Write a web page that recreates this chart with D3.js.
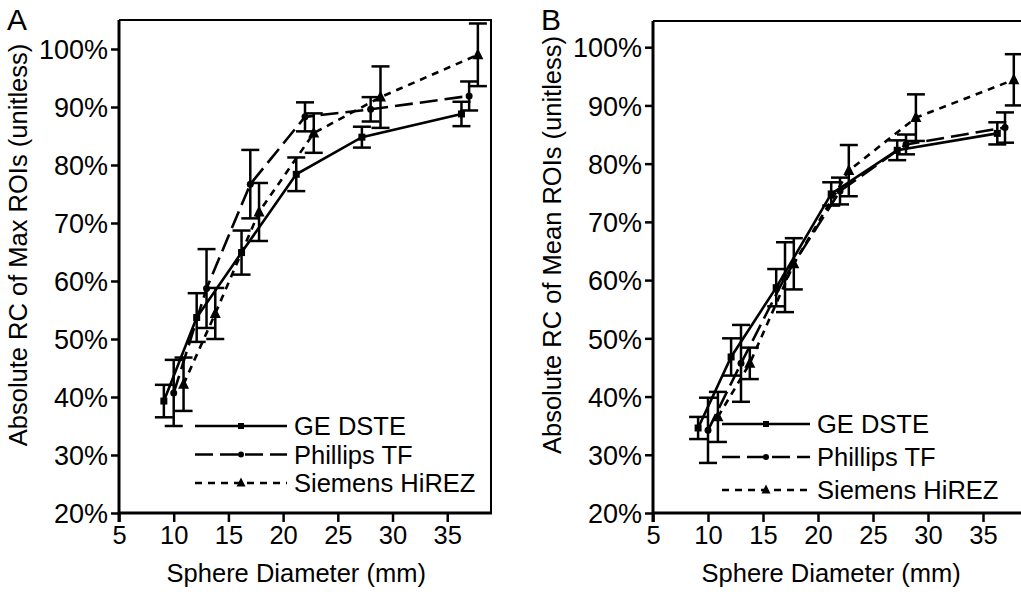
<!DOCTYPE html>
<html>
<head>
<meta charset="utf-8">
<script src="https://cdn.jsdelivr.net/npm/d3@7"></script>
<style>
  body { margin: 0; background: #fff; }
  svg { display: block; font-family: "Liberation Sans", Arial, sans-serif; }
</style>
</head>
<body>
<svg id="chart" width="1021" height="597"></svg>
<script>
/* ===== Data ===== */
const seriesNames = ["GE DSTE", "Phillips TF", "Siemens HiREZ"];
const yTicks = [20, 30, 40, 50, 60, 70, 80, 90, 100];
const xTicks = [5, 10, 15, 20, 25, 30, 35];

// sphere diameters (mm), each vendor plotted slightly offset
const xGE = [9.1, 12.1, 16.2, 21.2, 27.2, 36.3];
const xPH = [10.0, 13.0, 17.0, 22.0, 28.0, 37.0];
const xSI = [10.9, 13.8, 17.8, 22.8, 28.9, 37.8];

// panel A: max ROIs (%)
const maxGE = [39.3, 53.7, 64.9, 78.4, 84.8, 88.8];
const maxGEErr = [2.8, 4.2, 3.8, 2.9, 1.8, 2.1];
const maxPH = [40.7, 58.7, 76.7, 88.3, 89.6, 91.9];
const maxPHErr = [5.7, 6.8, 5.9, 2.5, 2.1, 2.5];
const maxSI = [42.2, 54.4, 71.9, 85.5, 91.7, 99.0];
const maxSIErr = [4.6, 4.4, 5.0, 3.4, 5.3, 5.4];

// panel B: mean ROIs (%)
const meanGE = [34.6, 46.8, 58.7, 74.8, 82.3, 85.2];
const meanGEErr = [1.9, 3.2, 3.2, 2.0, 1.7, 1.9];
const meanPH = [34.2, 45.7, 60.5, 75.3, 83.3, 86.2];
const meanPHErr = [5.6, 6.6, 6.0, 2.3, 1.7, 2.6];
const meanSI = [36.5, 45.7, 62.8, 78.8, 87.9, 94.4];
const meanSIErr = [4.3, 2.7, 4.4, 4.4, 4.0, 4.4];

/* ===== Styles ===== */
const dash = { ge: null, ph: "18,7", si: "7,6" };
const FS = 25.5;

const svg = d3.select("#chart");

function marker(g, kind, x, y, s) {
  if (kind === "ge") {
    g.append("rect").attr("x", x - s / 2).attr("y", y - s / 2)
      .attr("width", s).attr("height", s).attr("fill", "#000");
  } else if (kind === "ph") {
    g.append("circle").attr("cx", x).attr("cy", y).attr("r", s / 2).attr("fill", "#000");
  } else {
    const h = s;
    g.append("path")
      .attr("d", `M${x},${y - h * 0.6} L${x + s / 2},${y + h * 0.4} L${x - s / 2},${y + h * 0.4} Z`)
      .attr("fill", "#000");
  }
}

function drawPanel(p) {
  const g = svg.append("g");
  const x = d3.scaleLinear().domain([5, 39]).range([p.left, p.right]);
  const y = d3.scaleLinear().domain([20, p.yMax]).range([513, p.top]);

  // frame (top + right thin)
  g.append("line").attr("x1", p.left).attr("x2", p.right + 1)
    .attr("y1", p.top).attr("y2", p.top)
    .attr("stroke", "#000").attr("stroke-width", 2);
  g.append("line").attr("x1", p.right).attr("x2", p.right)
    .attr("y1", p.top).attr("y2", 513)
    .attr("stroke", "#000").attr("stroke-width", 2);

  // axes
  const yAxis = d3.axisLeft(y).tickValues(yTicks).tickSize(8).tickPadding(3)
    .tickFormat(d => d + "%");
  const xAxis = d3.axisBottom(x).tickValues(xTicks).tickSize(9).tickPadding(4);

  const ya = g.append("g").attr("transform", `translate(${p.left},0)`).call(yAxis);
  const xa = g.append("g").attr("transform", "translate(0,513)").call(xAxis);
  [ya, xa].forEach(a => {
    a.select(".domain").attr("stroke-width", 3);
    a.selectAll(".tick line").attr("stroke-width", 2.5);
    a.selectAll("text").attr("font-family", "Liberation Sans, Arial, sans-serif").attr("fill", "#000");
  });
  ya.selectAll("text").attr("font-size", 27).attr("dy", "0.36em");
  xa.selectAll("text").attr("font-size", FS).attr("dy", "0.72em");
  ya.select(".domain").attr("d", `M0,${p.top}V522`);
  xa.select(".domain").attr("d", `M${p.left},0H${p.right + 1}`);

  // axis titles
  g.append("text")
    .attr("transform", `translate(${p.yLabelX},${p.yLabelY}) rotate(-90)`)
    .attr("text-anchor", "middle").attr("font-size", FS)
    .text(p.yTitle);
  g.append("text")
    .attr("x", x(21.2)).attr("y", 582)
    .attr("text-anchor", "middle").attr("font-size", FS)
    .text("Sphere Diameter (mm)");

  // panel letter
  g.append("text").attr("x", p.letterX).attr("y", 30)
    .attr("font-size", 30).text(p.letter);

  // series
  p.series.forEach(s => {
    const pts = s.xs.map((d, i) => ({ x: d, y: s.ys[i], e: s.err[i] }));
    g.append("path")
      .attr("d", d3.line().x(d => x(d.x)).y(d => y(d.y))(pts))
      .attr("fill", "none").attr("stroke", "#000").attr("stroke-width", 2.6)
      .attr("stroke-dasharray", dash[s.kind]);

    const eb = g.append("g").attr("stroke", "#000").attr("stroke-width", 2.5);
    pts.forEach(d => {
      eb.append("line").attr("x1", x(d.x)).attr("x2", x(d.x))
        .attr("y1", y(d.y - d.e)).attr("y2", y(d.y + d.e));
      [d.y - d.e, d.y + d.e].forEach(v => {
        eb.append("line").attr("x1", x(d.x) - 9).attr("x2", x(d.x) + 9)
          .attr("y1", y(v)).attr("y2", y(v));
      });
    });
    pts.forEach(d => marker(g, s.kind, x(d.x), y(d.y), s.kind === "si" ? 11 : 7));
  });

  // legend
  const lg = g.append("g");
  p.series.forEach((s, i) => {
    const ly = p.legY + i * p.legStep;
    lg.append("line").attr("x1", p.legX1).attr("x2", p.legX2)
      .attr("y1", ly).attr("y2", ly)
      .attr("stroke", "#000").attr("stroke-width", 2.4)
      .attr("stroke-dasharray", dash[s.kind]);
    marker(lg, s.kind, (p.legX1 + p.legX2) / 2, ly, s.kind === "si" ? 9 : 6);
    lg.append("text").attr("x", p.legX2 + 7).attr("y", ly + 9)
      .attr("font-size", FS).text(seriesNames[i]);
  });
}

drawPanel({
  left: 119, right: 491, top: 20, yMax: 105,
  yTitle: "Absolute RC of Max ROIs (unitless)", yLabelX: 27, yLabelY: 245,
  letter: "A", letterX: 7,
  legX1: 195, legX2: 287, legY: 426, legStep: 28.5,
  series: [
    { kind: "ge", xs: xGE, ys: maxGE, err: maxGEErr },
    { kind: "ph", xs: xPH, ys: maxPH, err: maxPHErr },
    { kind: "si", xs: xSI, ys: maxSI, err: maxSIErr }
  ]
});

drawPanel({
  left: 653, right: 1027, top: 21, yMax: 104.5,
  yTitle: "Absolute RC of Mean ROIs (unitless)", yLabelX: 561, yLabelY: 245,
  letter: "B", letterX: 541,
  legX1: 722, legX2: 810, legY: 424, legStep: 33,
  series: [
    { kind: "ge", xs: xGE, ys: meanGE, err: meanGEErr },
    { kind: "ph", xs: xPH, ys: meanPH, err: meanPHErr },
    { kind: "si", xs: xSI, ys: meanSI, err: meanSIErr }
  ]
});
</script>
</body>
</html>
